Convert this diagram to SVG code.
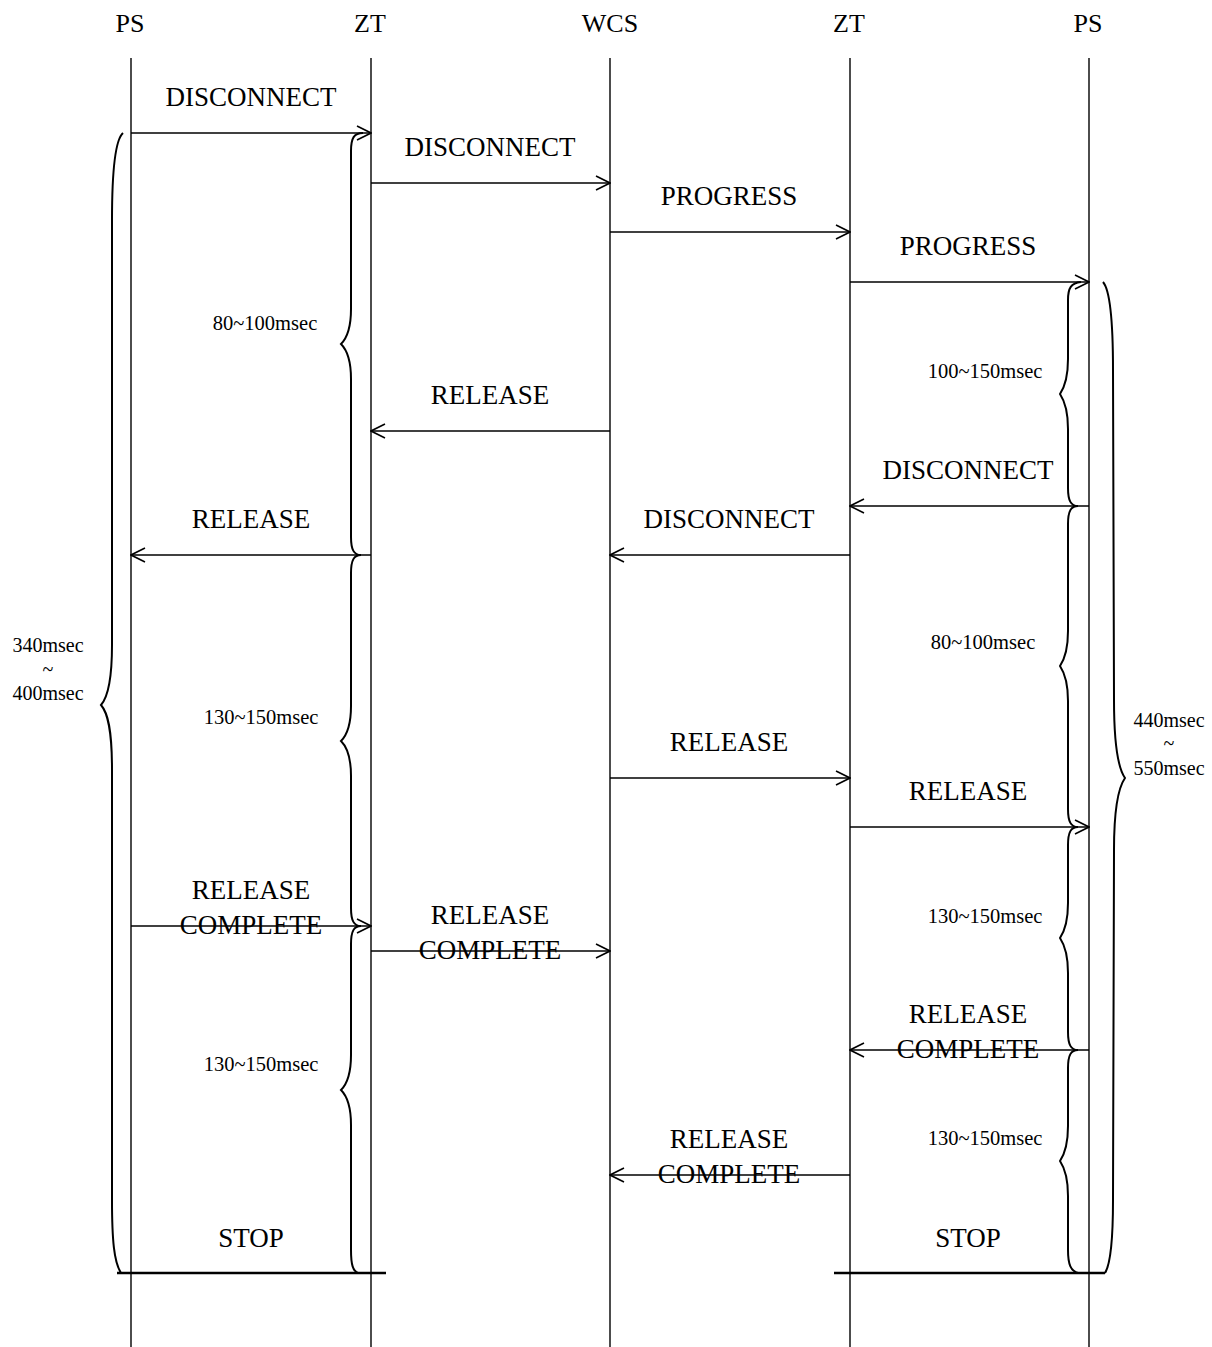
<svg xmlns="http://www.w3.org/2000/svg" width="1212" height="1347" viewBox="0 0 1212 1347">
<defs>
<marker id="arr" viewBox="0 0 16 16" refX="15" refY="8" markerWidth="16" markerHeight="16" markerUnits="userSpaceOnUse" orient="auto">
<path d="M1,1 L15,8 L1,15" fill="none" stroke="#000" stroke-width="1.6"/>
</marker>
</defs>
<style>
text{font-family:"Liberation Serif","Times New Roman",serif;fill:#000;text-anchor:middle}
.hd{font-size:26px}
.lb{font-size:27px}
.sm{font-size:20.5px}
.bg{font-size:20px}
.life{stroke:#000;stroke-width:1.4;fill:none}
.msg{stroke:#000;stroke-width:1.4;fill:none;marker-end:url(#arr)}
.br{stroke:#000;stroke-width:2;fill:none}
.stop{stroke:#000;stroke-width:2.6}
</style>
<rect width="1212" height="1347" fill="#fff"/>
<g id="lifelines">
<g id="ps1"><text class="hd" x="130" y="32">PS</text><line class="life" x1="131" y1="58" x2="131" y2="1347"/></g>
<g id="zt1"><text class="hd" x="370" y="32">ZT</text><line class="life" x1="371" y1="58" x2="371" y2="1347"/></g>
<g id="wcs"><text class="hd" x="610" y="32">WCS</text><line class="life" x1="610" y1="58" x2="610" y2="1347"/></g>
<g id="zt2"><text class="hd" x="849" y="32">ZT</text><line class="life" x1="850" y1="58" x2="850" y2="1347"/></g>
<g id="ps2"><text class="hd" x="1088" y="32">PS</text><line class="life" x1="1089" y1="58" x2="1089" y2="1347"/></g>
</g>
<g id="connectors">
<line class="msg" x1="131" y1="133" x2="371" y2="133"/>
<line class="msg" x1="371" y1="183" x2="610" y2="183"/>
<line class="msg" x1="610" y1="232" x2="850" y2="232"/>
<line class="msg" x1="850" y1="282" x2="1089" y2="282"/>
<line class="msg" x1="610" y1="431" x2="371" y2="431"/>
<line class="msg" x1="1089" y1="506" x2="850" y2="506"/>
<line class="msg" x1="371" y1="555" x2="131" y2="555"/>
<line class="msg" x1="850" y1="555" x2="610" y2="555"/>
<line class="msg" x1="610" y1="778" x2="850" y2="778"/>
<line class="msg" x1="850" y1="827" x2="1089" y2="827"/>
<line class="msg" x1="131" y1="926" x2="371" y2="926"/>
<line class="msg" x1="371" y1="951" x2="610" y2="951"/>
<line class="msg" x1="1089" y1="1050" x2="850" y2="1050"/>
<line class="msg" x1="850" y1="1175" x2="610" y2="1175"/>
</g>
<g id="labels">
<text class="lb" x="251" y="106">DISCONNECT</text>
<text class="lb" x="490" y="156">DISCONNECT</text>
<text class="lb" x="729" y="205">PROGRESS</text>
<text class="lb" x="968" y="255">PROGRESS</text>
<text class="lb" x="490" y="404">RELEASE</text>
<text class="lb" x="968" y="479">DISCONNECT</text>
<text class="lb" x="251" y="528">RELEASE</text>
<text class="lb" x="729" y="528">DISCONNECT</text>
<text class="lb" x="729" y="751">RELEASE</text>
<text class="lb" x="968" y="800">RELEASE</text>
<text class="lb" x="251" y="899">RELEASE</text>
<text class="lb" x="251" y="934">COMPLETE</text>
<text class="lb" x="490" y="924">RELEASE</text>
<text class="lb" x="490" y="959">COMPLETE</text>
<text class="lb" x="968" y="1023">RELEASE</text>
<text class="lb" x="968" y="1058">COMPLETE</text>
<text class="lb" x="729" y="1148">RELEASE</text>
<text class="lb" x="729" y="1183">COMPLETE</text>
<text class="lb" x="251" y="1247">STOP</text>
<text class="lb" x="968" y="1247">STOP</text>
</g>
<g id="braces">
<path class="br" d="M363 133 C354 133,351 138,351 151 L351 309 C351 326,347 338,341 344 C347 350,351 362,351 379 L351 537 C351 550,354 555,361 555"/>
<path class="br" d="M361 555 C354 555,351 560,351 573 L351 706 C351 723,347 735,341 741 C347 747,351 759,351 776 L351 908 C351 921,354 926,361 926"/>
<path class="br" d="M361 926 C354 926,351 931,351 944 L351 1055 C351 1072,347 1084,341 1090 C347 1096,351 1108,351 1125 L351 1250 C351 1265,353 1271,358 1273"/>
<path class="br" d="M1081 282 C1071 283,1068 288,1068 300 L1068 359 C1068 376,1064 388,1060 394 C1064 400,1068 412,1068 429 L1068 488 C1068 501,1071 506,1078 506"/>
<path class="br" d="M1078 506 C1071 506,1068 511,1068 524 L1068 631 C1068 648,1064 660,1060 666 C1064 672,1068 684,1068 701 L1068 809 C1068 822,1071 827,1078 827"/>
<path class="br" d="M1078 827 C1071 827,1068 832,1068 845 L1068 903 C1068 920,1064 932,1060 938 C1064 944,1068 956,1068 973 L1068 1032 C1068 1045,1071 1050,1078 1050"/>
<path class="br" d="M1078 1050 C1071 1050,1068 1055,1068 1068 L1068 1126 C1068 1143,1064 1155,1060 1161 C1064 1167,1068 1179,1068 1196 L1068 1250 C1068 1265,1071 1271,1078 1273"/>
<path class="br" d="M123 133 C115 140,112 170,112 220 L112 645 C112 680,108 697,101 705 C108 713,112 730,112 770 L112 1200 C112 1240,114 1262,121 1273"/>
<path class="br" d="M1103 282 C1110 290,1113 320,1113 370 L1114 700 C1114 745,1118 768,1125 778 C1118 788,1114 810,1114 850 L1113 1200 C1113 1245,1110 1265,1105 1273"/>
</g>
<g id="durations">
<text class="sm" x="265" y="330">80~100msec</text>
<text class="sm" x="261" y="724">130~150msec</text>
<text class="sm" x="261" y="1071">130~150msec</text>
<text class="sm" x="985" y="378">100~150msec</text>
<text class="sm" x="983" y="649">80~100msec</text>
<text class="sm" x="985" y="923">130~150msec</text>
<text class="sm" x="985" y="1145">130~150msec</text>
<text class="bg" x="48" y="652">340msec</text>
<text class="bg" x="48" y="676">~</text>
<text class="bg" x="48" y="700">400msec</text>
<text class="bg" x="1169" y="727">440msec</text>
<text class="bg" x="1169" y="750">~</text>
<text class="bg" x="1169" y="775">550msec</text>
</g>
<g id="stops">
<line class="stop" x1="117" y1="1273" x2="386" y2="1273"/>
<line class="stop" x1="834" y1="1273" x2="1105" y2="1273"/>
</g>
</svg>
